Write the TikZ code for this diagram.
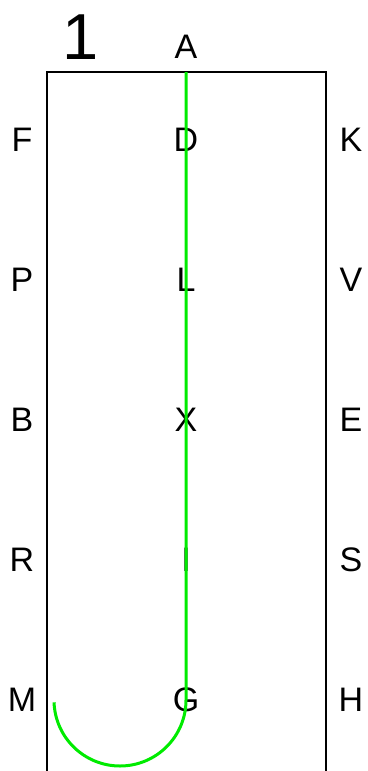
\documentclass[tikz,border=0pt]{standalone}
\usepackage{fontspec}
\setmainfont{Liberation Sans}
\begin{document}
\begin{tikzpicture}[x=1pt,y=-1pt,
  lbl/.style={font=\fontsize{34}{36}\selectfont, inner sep=0pt, anchor=center},
  big/.style={font=\fontsize{65}{67}\selectfont, inner sep=0pt, anchor=center},
  wall/.style={draw=black, line width=2pt},
  trace/.style={draw={rgb,255:red,0;green,235;blue,0}, line width=3pt}]
\useasboundingbox (0,0) rectangle (367,771);
\node[big] (one) at (81,37) {1};
\node[lbl] (A) at (186,47) {A};
\foreach \n/\l/\m/\r/\y in {1/F/D/K/140, 2/P/L/V/280, 3/B/X/E/420, 4/R/I/S/560, 5/M/G/H/700} {
  \node[lbl] (l\n) at (22,\y) {\l};
  \node[lbl] (m\n) at (186,\y) {\m};
  \node[lbl] (r\n) at (351,\y) {\r};
}
\coordinate (bl) at (47,771);
\coordinate (tl) at (47,72);
\coordinate (tr) at (326,72);
\coordinate (br) at (326,771);
\draw[wall] (bl) -- (tl) -- (tr) -- (br);
\coordinate (gtop) at (186,72);
\coordinate (gturn) at (186,700);
\draw[trace] (gtop) -- (gturn) arc[start angle=0, end angle=178, radius=66];
\end{tikzpicture}
\end{document}
